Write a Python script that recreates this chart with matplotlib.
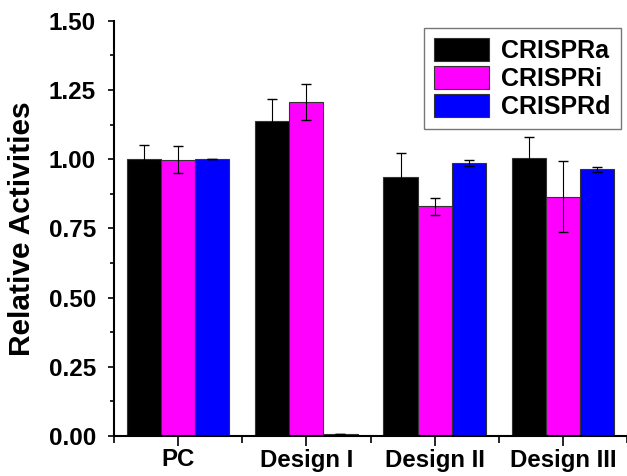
import numpy as np
import matplotlib
matplotlib.use('Agg')
import matplotlib.pyplot as plt
from matplotlib.ticker import MultipleLocator

plt.rcParams['font.family'] = ['Liberation Sans', 'DejaVu Sans']
plt.rcParams['font.weight'] = 'bold'

groups = ['PC', 'Design I', 'Design II', 'Design III']
series = ['CRISPRa', 'CRISPRi', 'CRISPRd']
colors = ['#000000', '#ff00ff', '#0000ff']

crispr_a = [1.00, 1.136, 0.936, 1.004]
crispr_a_err = [0.05, 0.082, 0.087, 0.075]
crispr_i = [0.998, 1.206, 0.830, 0.865]
crispr_i_err = [0.048, 0.064, 0.030, 0.127]
crispr_d = [1.001, 0.006, 0.986, 0.964]
crispr_d_err = [0.0, 0.0, 0.010, 0.009]

values = [crispr_a, crispr_i, crispr_d]
errors = [crispr_a_err, crispr_i_err, crispr_d_err]

fig = plt.figure(figsize=(6.27, 4.76), dpi=100)
ax = fig.add_axes([114 / 627, 40 / 476, 513 / 627, 415.3 / 476])

x = np.arange(1, len(groups) + 1)
w = 0.266
for k in range(3):
    pos = x + (k - 1) * w
    ax.bar(pos, values[k], w, color=colors[k], edgecolor='#333333',
           linewidth=0.8, label=series[k], zorder=2)
    ax.errorbar(pos, values[k], yerr=errors[k], fmt='none',
                ecolor='black', elinewidth=0.8, capsize=3.5,
                capthick=1.0, zorder=3)

ax.set_xlim(0.5, 4.5)
ax.set_ylim(0, 1.5)
ax.yaxis.set_major_locator(MultipleLocator(0.25))
ax.yaxis.set_minor_locator(MultipleLocator(0.125))
ax.set_xticks(x)
ax.set_xticklabels(groups)
ax.set_xticks(np.arange(0.5, 4.6, 1.0), minor=True)
ax.yaxis.set_major_formatter(matplotlib.ticker.FormatStrFormatter('%.2f'))

for s in ['top', 'right']:
    ax.spines[s].set_visible(False)
for s in ['left', 'bottom']:
    ax.spines[s].set_linewidth(1.5)

ax.tick_params(axis='y', which='major', direction='out', length=4, width=1.2,
               labelsize=17.5, pad=9)
ax.tick_params(axis='y', which='minor', direction='out', length=3, width=1.2)
ax.tick_params(axis='x', which='major', direction='out', length=7, width=1.2,
               labelsize=17.3, pad=2)
ax.tick_params(axis='x', which='minor', direction='out', length=5, width=1.2)

ax.set_ylabel('Relative Activities', fontsize=21.5, fontweight='bold', labelpad=9)

leg = ax.legend(loc='upper right', bbox_to_anchor=(621 / 627, 1 - 28 / 476),
                bbox_transform=fig.transFigure, fontsize=18, frameon=True,
                fancybox=False, edgecolor='#555555', handlelength=2.2,
                handleheight=1.05, labelspacing=0.12, handletextpad=0.5,
                borderpad=0.4, borderaxespad=0)
leg.get_frame().set_linewidth(1.0)
for t in leg.get_texts():
    t.set_fontweight('bold')

fig.savefig('out.png', dpi=100)
